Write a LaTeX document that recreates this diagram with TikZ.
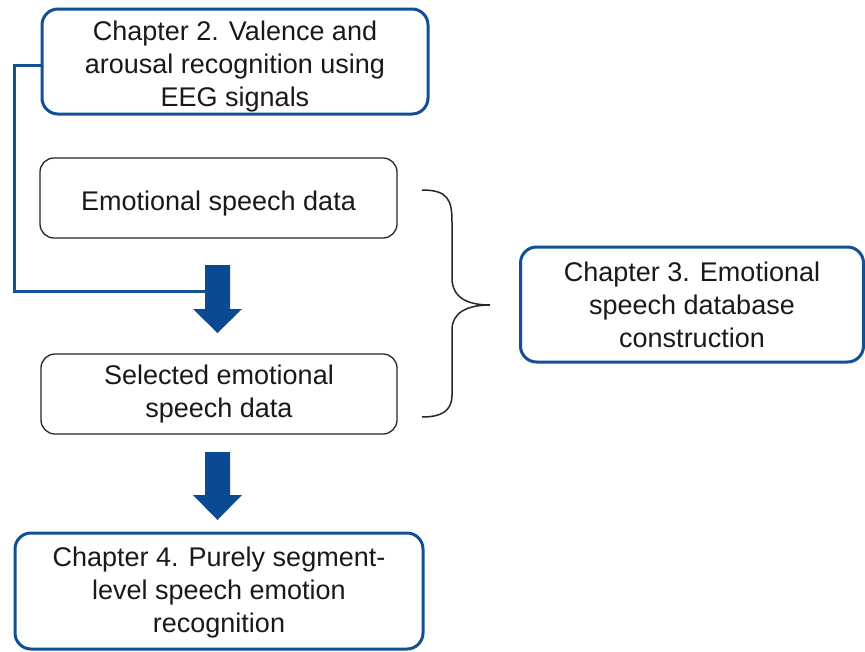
\documentclass[tikz,border=0pt]{standalone}
\usepackage{fontspec}
\setmainfont{Liberation Sans}
\definecolor{chblue}{RGB}{18,80,150}
\definecolor{arrblue}{RGB}{10,74,146}
\definecolor{txt}{RGB}{25,25,25}
\begin{document}
\begin{tikzpicture}[x=1pt,y=-1pt,
  boxfont/.style={font=\fontsize{27}{33}\selectfont, text=txt, align=center, inner sep=0pt},
  chap/.style={boxfont, draw=chblue, line width=3pt, rounded corners=16pt},
  datab/.style={boxfont, draw=black!85, line width=1.3pt, rounded corners=14pt},
  blockarrow/.style={fill=arrblue, draw=none},
  link/.style={draw=chblue, line width=3pt},
  bracestyle/.style={draw=black!85, line width=1.5pt}]
\useasboundingbox (0,0) rectangle (865,651);

\node[chap, minimum width=386pt, minimum height=105pt] (ch2) at (235,61.5)
  {\rule{0pt}{29pt}Chapter 2. Valence and\\arousal recognition using\\EEG signals};
\node[datab, minimum width=357pt, minimum height=80pt] (esd) at (218.5,198)
  {\rule{0pt}{30pt}Emotional speech data};
\node[datab, minimum width=356pt, minimum height=80pt] (sel) at (219,394)
  {Selected emotional\\speech data};
\node[chap, minimum width=343pt, minimum height=115pt] (ch3) at (692,304.5)
  {Chapter 3. Emotional\\speech database\\construction};
\node[chap, minimum width=408pt, minimum height=116pt] (ch4) at (219,591)
  {\rule{0pt}{23pt}Chapter 4. Purely segment-\\level speech emotion\\recognition};

% link from chapter 2 into first arrow
\coordinate (a1in) at (210,291);
\draw[link] ([yshift=-3.5pt]ch2.west) -- (14,65) |- (a1in);

% block arrows
\draw[blockarrow] (205,265) -- (230,265) -- (230,309) -- (242,309) -- (217.5,333)
  -- (193,309) -- (205,309) -- cycle;
\draw[blockarrow] (205,452) -- (230,452) -- (230,495) -- (242,495) -- (217.5,520)
  -- (193,495) -- (205,495) -- cycle;

% brace
\draw[bracestyle] (422,190) .. controls (448,190) and (452,200) .. (452,222)
  -- (452,278) .. controls (452,298) and (468,305) .. (490,305)
  .. controls (468,305) and (452,312) .. (452,330)
  -- (452,395) .. controls (452,412) and (440,417) .. (422,417);
\end{tikzpicture}
\end{document}
